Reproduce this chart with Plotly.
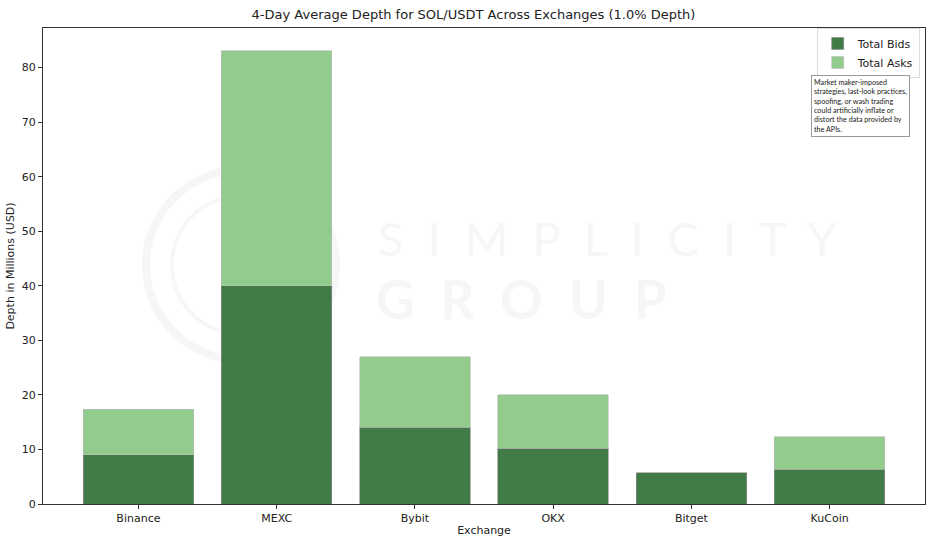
import plotly.graph_objects as go

exchanges = ["Binance", "MEXC", "Bybit", "OKX", "Bitget", "KuCoin"]
total_bids = [9.0, 40.0, 14.1, 10.2, 5.75, 6.4]
total_asks = [8.4, 43.1, 12.9, 9.8, 0.0, 5.9]
y_ticks = [0, 10, 20, 30, 40, 50, 60, 70, 80]

BID_COLOR = "#417c47"
ASK_COLOR = "#92cc8c"
FONT = "DejaVu Sans"

L, R, T, B = 43, 22, 28, 33
PW, PH = 947 - L - R, 537 - T - B


def px(x):
    return (x - L) / PW


def py(y):
    return (537 - B - y) / PH


fig = go.Figure()
fig.add_trace(go.Bar(
    x=exchanges, y=total_bids, name="Total Bids",
    marker=dict(color=BID_COLOR, line=dict(color="rgba(140,140,140,0.8)", width=0.8)),
    width=0.8,
))
fig.add_trace(go.Bar(
    x=exchanges, y=total_asks, name="Total Asks",
    marker=dict(color=ASK_COLOR, line=dict(color="rgba(190,190,190,0.8)", width=0.8)),
    width=0.8,
))

ymax = max(b + a for b, a in zip(total_bids, total_asks)) * 1.05

fig.update_layout(
    barmode="stack",
    width=947, height=537,
    margin=dict(l=L, r=R, t=T, b=B, autoexpand=False),
    paper_bgcolor="white", plot_bgcolor="white",
    font=dict(family=FONT, size=11, color="#222222"),
    title=dict(text="4-Day Average Depth for SOL/USDT Across Exchanges (1.0% Depth)",
               x=0.5, xanchor="center", y=0.982, yanchor="top",
               font=dict(family=FONT, size=13, color="#222222")),
    showlegend=True,
    legend=dict(x=0.994, y=1.0, xanchor="right", yanchor="top",
                bgcolor="rgba(255,255,255,0.85)", bordercolor="#dddddd", borderwidth=1,
                font=dict(family=FONT, size=11), traceorder="normal",
                itemwidth=30, tracegroupgap=0),
)
fig.update_xaxes(
    range=[-0.69, 5.69], showline=True, linecolor="#333333", linewidth=1, mirror=True,
    ticks="outside", ticklen=4, tickcolor="#333333", showgrid=False, automargin=False,
    title=dict(text="Exchange", font=dict(size=11), standoff=4),
    tickfont=dict(size=11),
)
fig.update_yaxes(
    range=[0, ymax], showline=True, linecolor="#333333", linewidth=1, mirror=True,
    ticks="outside", ticklen=4, tickcolor="#333333", showgrid=False, automargin=False,
    tickvals=y_ticks, zeroline=False,
    title=dict(text="Depth in Millions (USD)", font=dict(size=11), standoff=4),
    tickfont=dict(size=11),
)

# faint watermark (behind)
fig.add_shape(type="circle", xref="paper", yref="paper",
              x0=px(146), x1=px(336), y0=py(360), y1=py(170),
              line=dict(color="#f6f6f6", width=8), layer="below")
fig.add_shape(type="circle", xref="paper", yref="paper",
              x0=px(172), x1=px(310), y0=py(334), y1=py(196),
              line=dict(color="#f7f7f7", width=4), layer="below")
sp = "\u00a0\u00a0"
fig.add_annotation(text=sp.join("SIMPLICITY"), xref="paper", yref="paper",
                   x=px(376), y=py(238), xanchor="left", yanchor="middle",
                   showarrow=False, font=dict(family="Lato", size=47, color="#f6f6f6"))
fig.add_annotation(text="<b>" + sp.join("GROUP") + "</b>", xref="paper", yref="paper",
                   x=px(374), y=py(298), xanchor="left", yanchor="middle",
                   showarrow=False, font=dict(family="Lato", size=53, color="#f6f6f6"))

# disclaimer box
fig.add_annotation(
    text=("Market maker-imposed<br>strategies, last-look practices,<br>spoofing, or wash trading<br>"
          "could artificially inflate or<br>distort the data provided by<br>the APIs."),
    xref="paper", yref="paper", x=px(811), y=py(75),
    xanchor="left", yanchor="top", align="left", showarrow=False,
    font=dict(family="Lato", size=7.2, color="#222222"),
    bordercolor="#999999", borderwidth=1, borderpad=2, bgcolor="white",
)

fig.write_html(
    "out.html",
    config={"displayModeBar": False},
    post_script="document.body.style.margin='0';document.body.style.overflow='hidden';",
)
